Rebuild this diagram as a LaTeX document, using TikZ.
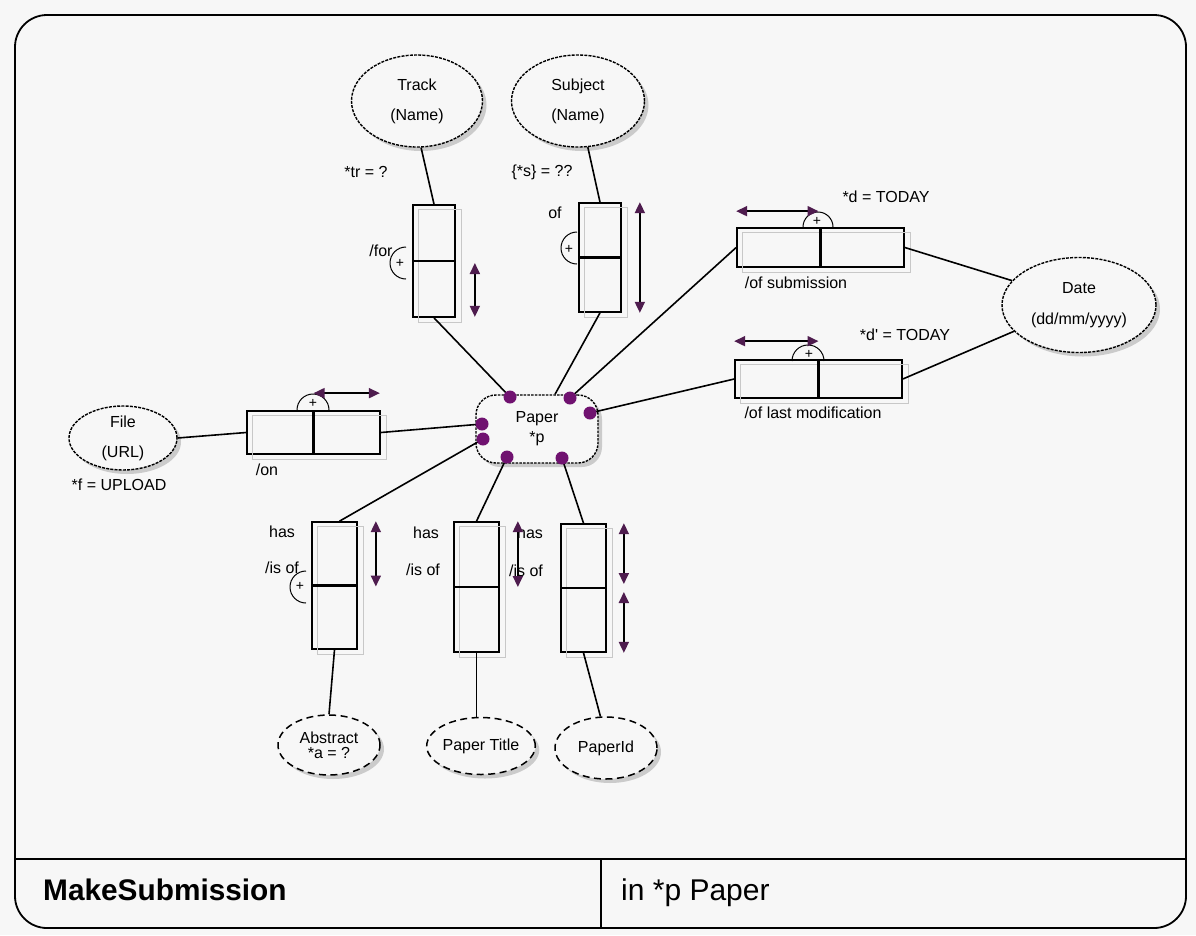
\documentclass[tikz,border=0pt]{standalone}
\usepackage{fontspec}
\setmainfont{Liberation Sans}[Ligatures=TeXOff]
\usetikzlibrary{shapes.geometric,arrows.meta,shadows,calc}

\definecolor{bg}{RGB}{247,247,247}
\definecolor{dotpurple}{RGB}{112,18,112}
\definecolor{tippurple}{RGB}{78,28,78}
\definecolor{boxshade}{RGB}{200,200,200}

\newcommand{\lblfont}{\fontsize{16}{18}\selectfont}

\tikzset{
  shade/.style={drop shadow={shadow xshift=4pt, shadow yshift=-4pt, opacity=0.3, fill=black!60}},
  ent/.style={ellipse, draw, line width=1.4pt, dash pattern=on 3pt off 1.2pt,
    fill=bg, inner sep=0pt, align=center, font=\lblfont, shade},
  vent/.style={ellipse, draw, line width=1.5pt, dash pattern=on 7pt off 4.5pt,
    fill=bg, inner sep=0pt, align=center, font=\lblfont, shade},
  paperent/.style={rectangle, rounded corners=20pt, draw, line width=1.4pt,
    dash pattern=on 2.5pt off 1.2pt, fill=bg, inner sep=0pt, align=center,
    font=\lblfont, shade},
  rbox/.style={rectangle, draw, line width=1.7pt, inner sep=0pt},
  link/.style={line width=1.6pt},
  divider/.style={line width=2.1pt},
  dbl/.style={line width=1.8pt,
    {Triangle[length=11pt,width=10pt,color=tippurple,fill=tippurple]}-{Triangle[length=11pt,width=10pt,color=tippurple,fill=tippurple]}},
  plusarc/.style={line width=1pt},
  plussign/.style={inner sep=0pt, font=\fontsize{14}{14}\selectfont},
  lbl/.style={inner sep=0pt, font=\lblfont},
  pdot/.style={circle, fill=dotpurple, minimum size=13pt, inner sep=0pt},
  frame/.style={line width=1.8pt},
}

% grey offset outline behind a role box
\newcommand{\roleshade}[1]{%
  \draw[boxshade, line width=1pt] ($(#1.north west)+(6,5)$) rectangle ($(#1.south east)+(6,5)$);}

\begin{document}
\begin{tikzpicture}[x=1pt,y=-1pt]
\useasboundingbox (0,0) rectangle (1196,935);
\fill[bg] (0,0) rectangle (1196,935);

% outer frame and footer
\draw[frame, rounded corners=32pt] (15,500) -- (15,15) -- (1186,15) -- (1186,928) -- (15,928) -- cycle;
\draw[frame] (15,859) -- (1186,859);
\draw[frame] (601,859) -- (601,928);
\node[anchor=base west, inner sep=0pt, font=\bfseries\fontsize{29.8}{31}\selectfont] (title) at (43,900) {MakeSubmission};
\node[anchor=base west, inner sep=0pt, font=\fontsize{30}{32}\selectfont] (param) at (621,900) {in *p Paper};

% entity types
\node[ent, minimum width=131pt, minimum height=92pt] (track) at (417,101) {Track\\[12pt](Name)};
\node[ent, minimum width=133pt, minimum height=92pt] (subject) at (578,101) {Subject\\[12pt](Name)};
\node[ent, minimum width=154pt, minimum height=95pt] (date) at (1079,305) {Date\\[13pt](dd/mm/yyyy)};
\node[ent, minimum width=108pt, minimum height=64pt] (file) at (123,438) {File\\[12pt](URL)};
\node[paperent, minimum width=122pt, minimum height=68pt] (paper) at (537,429) {Paper\\[2pt]*p};
\node[vent, minimum width=102pt, minimum height=60pt] (abstract) at (329,745) {Abstract\\[-3pt]*a = ?};
\node[vent, minimum width=103pt, minimum height=57pt] (ptitle) at (481,746) {Paper Title};
\node[vent, minimum width=102pt, minimum height=62pt] (pid) at (606,748) {PaperId};

% role boxes
\node[rbox, minimum width=42pt, minimum height=112pt] (trbox) at (434,261) {};
\node[rbox, minimum width=42pt, minimum height=109pt] (sbbox) at (600,257.5) {};
\node[rbox, minimum width=167pt, minimum height=39pt] (subbox) at (820.5,247.5) {};
\node[rbox, minimum width=167pt, minimum height=38pt] (lmbox) at (818.5,379) {};
\node[rbox, minimum width=133pt, minimum height=43pt] (fbox) at (313.5,432.5) {};
\node[rbox, minimum width=45pt, minimum height=127pt] (abbox) at (334.5,585.5) {};
\node[rbox, minimum width=45pt, minimum height=130pt] (ptbox) at (476.5,587) {};
\node[rbox, minimum width=45pt, minimum height=128pt] (pibox) at (583.5,588) {};

\foreach \b in {trbox,sbbox,subbox,lmbox,fbox,abbox,ptbox,pibox} {\roleshade{\b}}
\foreach \b in {trbox,sbbox,abbox,ptbox,pibox} {\draw[divider] (\b.west) -- (\b.east);}
\foreach \b in {subbox,lmbox,fbox} {\draw[divider] (\b.north) -- (\b.south);}

% connection points on Paper
\coordinate (p1) at (510,397);
\coordinate (p2) at (570,398);
\coordinate (p3) at (590,413);
\coordinate (p4) at (482,424);
\coordinate (p5) at (483,439);
\coordinate (p6) at (507,457);
\coordinate (p7) at (562,458);

% connectors
\draw[link] (track.-85) -- (trbox.north);
\draw[link] (subject.-78) -- (sbbox.north);
\draw[link] (trbox.south) -- (p1);
\draw[link] (sbbox.south) -- ($(paper.north)+(18,0)$);
\draw[link] (subbox.west) -- (p2);
\draw[link] (lmbox.west) -- (p3);
\draw[link] (subbox.east) -- (date.160);
\draw[link] (lmbox.east) -- (date.202);
\draw[link] (file.east) -- (fbox.west);
\draw[link] (fbox.east) -- (p4);
\draw[link] (p5) -- ($(abbox.north)+(5,0)$);
\draw[link] (p6) -- (ptbox.north);
\draw[link] (p7) -- (pibox.north);
\draw[link] (abbox.south) -- (abstract.north);
\draw[link] (ptbox.south) -- (ptbox.south |- ptitle.north);
\draw[link] (pibox.south) -- (pid.100);

\foreach \p in {p1,p2,p3,p4,p5,p6,p7} {\node[pdot] at (\p) {};}

% role labels
\node[lbl] (trval) at (366,172) {*tr = ?};
\node[lbl] (sbval) at (542,172) {\{*s\} = ??};
\node[lbl] (trfor) at (381,251) {/for};
\node[lbl] (sbof) at (555,213) {of};
\node[lbl] (subval) at (886,197) {*d = TODAY};
\node[lbl] (subname) at (796,283) {/of submission};
\node[lbl] (lmval) at (905,335) {*d' = TODAY};
\node[lbl] (lmname) at (813,413) {/of last modification};
\node[lbl] (fon) at (267,470) {/on};
\node[lbl] (fval) at (119,485) {*f = UPLOAD};
\node[lbl] (abhas) at (282,532) {has};
\node[lbl] (abis) at (282,568) {/is of};
\node[lbl] (pthas) at (426,533) {has};
\node[lbl] (ptis) at (423,570) {/is of};
\node[lbl] (pihas) at (530,533) {has};
\node[lbl] (piis) at (526,571) {/is of};

% uniqueness arcs
\draw[plusarc] (406,247) arc[start angle=270, end angle=90, radius=16];
\node[plussign] (trplus) at (400,263) {+};
\draw[plusarc] (577,232) arc[start angle=270, end angle=90, radius=16];
\node[plussign] (sbplus) at (569,249) {+};
\draw[plusarc] (803,227) arc[start angle=180, end angle=360, radius=15];
\node[plussign] (subplus) at (817,221) {+};
\draw[plusarc] (792,361) arc[start angle=180, end angle=360, radius=16];
\node[plussign] (lmplus) at (809,354) {+};
\draw[plusarc] (297,410) arc[start angle=180, end angle=360, radius=16];
\node[plussign] (fplus) at (313,403) {+};
\draw[plusarc] (306,571) arc[start angle=270, end angle=90, radius=16];
\node[plussign] (abplus) at (300,586) {+};

% uniqueness spans
\draw[dbl] ($(trbox.east)+(19,2)$) -- ($(trbox.south east)+(19,-1)$);
\draw[dbl] ($(sbbox.north east)+(18,0)$) -- ($(sbbox.south east)+(18,0)$);
\draw[dbl] ($(subbox.north west)+(0,-16)$) -- ($(subbox.north)+(-2,-16)$);
\draw[dbl] ($(lmbox.north west)+(0,-18)$) -- ($(lmbox.north)+(0,-18)$);
\draw[dbl] ($(fbox.north)+(0,-17)$) -- ($(fbox.north east)+(-1,-17)$);
\draw[dbl] ($(abbox.north east)+(18,0)$) -- ($(abbox.east)+(18,1)$);
\draw[dbl] ($(ptbox.north east)+(18,0)$) -- ($(ptbox.east)+(18,0)$);
\draw[dbl] ($(pibox.north east)+(17,0)$) -- ($(pibox.east)+(17,-4)$);
\draw[dbl] ($(pibox.east)+(17,4)$) -- ($(pibox.south east)+(17,0)$);
\end{tikzpicture}
\end{document}
